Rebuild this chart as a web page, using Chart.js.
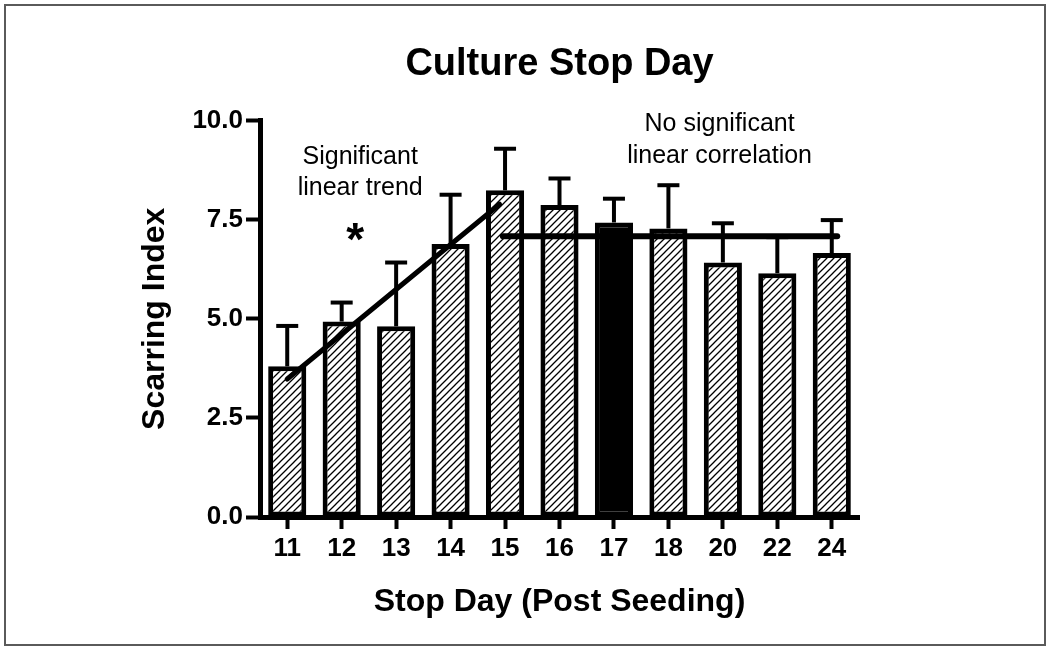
<!DOCTYPE html>
<html><head><meta charset="utf-8">
<script src="https://cdn.jsdelivr.net/npm/chart.js@4.4.0/dist/chart.umd.min.js"></script>
<style>html,body{margin:0;padding:0;background:#fff;overflow:hidden}canvas{display:block}</style>
</head><body>
<canvas id="c" width="1050" height="651"></canvas>
<script>
// ---- data ----
const categories = ['11','12','13','14','15','16','17','18','20','22','24'];
const meanValues = [3.80, 4.93, 4.81, 6.89, 8.24, 7.87, 7.43, 7.28, 6.42, 6.15, 6.66];
const semValues  = [1.02, 0.48, 1.61, 1.24, 1.05, 0.67, 0.60, 1.09, 0.99, 0.91, 0.83];
const yTickValues = [0, 2.5, 5, 7.5, 10];
const yTickLabels = ['0.0', '2.5', '5.0', '7.5', '10.0'];
const trendX = [0, 3.9];
const trendY = [3.48, 7.89];
const plateauX = [3.96, 10.1];
const plateauY = [7.08, 7.08];
const highlightedDay = '17';

Chart.defaults.font.family = "'Liberation Sans', Arial, Helvetica, sans-serif";
Chart.defaults.color = '#000';

// hatch pattern
function makeHatch() {
  const s = 7;
  const pc = document.createElement('canvas');
  pc.width = s; pc.height = s;
  const p = pc.getContext('2d');
  p.fillStyle = '#fff'; p.fillRect(0, 0, s, s);
  p.strokeStyle = '#000'; p.lineWidth = 1.3;
  p.beginPath();
  p.moveTo(-1, s + 1); p.lineTo(s + 1, -1);
  p.moveTo(-1, 1); p.lineTo(1, -1);
  p.moveTo(s - 1, s + 1); p.lineTo(s + 1, s - 1);
  p.stroke();
  return document.getElementById('c').getContext('2d').createPattern(pc, 'repeat');
}
const hatch = makeHatch();
const barFills = categories.map(c => c === highlightedDay ? '#000' : hatch);

const errorBarPlugin = {
  id: 'errorBars',
  afterDatasetDraw(chart, args) {
    if (args.index !== 0) return;
    const ctx = chart.ctx, y = chart.scales.y;
    const meta = chart.getDatasetMeta(0);
    ctx.save();
    ctx.strokeStyle = '#000'; ctx.lineWidth = 4; ctx.lineCap = 'butt';
    meta.data.forEach((bar, i) => {
      const x = bar.x;
      const yTop = y.getPixelForValue(meanValues[i]);
      const yErr = y.getPixelForValue(meanValues[i] + semValues[i]);
      ctx.beginPath(); ctx.moveTo(x, yTop); ctx.lineTo(x, yErr); ctx.stroke();
      ctx.beginPath(); ctx.moveTo(x - 11, yErr); ctx.lineTo(x + 11, yErr); ctx.stroke();
    });
    ctx.restore();
  }
};

const annotations = [
  { lines: ['Significant', 'linear trend'], x: 1.34, y: 8.91, font: '25px "Liberation Sans", Arial, sans-serif', gap: 31 },
  { lines: ['No significant', 'linear correlation'], x: 7.94, y: 9.73, font: '25px "Liberation Sans", Arial, sans-serif', gap: 31.6 },
  { lines: ['*'], x: 1.25, y: 6.6, font: 'bold 46px "Liberation Sans", Arial, sans-serif', gap: 0 }
];

const decorPlugin = {
  id: 'decor',
  afterDraw(chart) {
    const ctx = chart.ctx;
    const xs = chart.scales.xl, ys = chart.scales.y;
    ctx.save();
    ctx.fillStyle = '#000';
    ctx.textAlign = 'center';
    ctx.textBaseline = 'alphabetic';
    annotations.forEach(a => {
      ctx.font = a.font;
      const px = xs.getPixelForValue(a.x);
      const py = ys.getPixelForValue(a.y);
      a.lines.forEach((t, k) => ctx.fillText(t, px, py + k * a.gap));
    });
    ctx.strokeStyle = '#5a5a5a';
    ctx.lineWidth = 2;
    ctx.strokeRect(5, 5, 1040, 640);
    ctx.restore();
  }
};

new Chart(document.getElementById('c'), {
  type: 'bar',
  data: {
    labels: categories,
    datasets: [
      {
        type: 'bar',
        data: meanValues,
        backgroundColor: barFills,
        borderColor: '#000',
        borderWidth: 5,
        borderSkipped: false,
        grouped: false,
        barPercentage: 0.70,
        categoryPercentage: 1.0,
        order: 2,
        xAxisID: 'x'
      },
      {
        type: 'line',
        data: trendX.map((v, i) => ({ x: v, y: trendY[i] })),
        xAxisID: 'xl',
        borderColor: '#000',
        borderWidth: 5,
        borderCapStyle: 'round',
        pointRadius: 0,
        fill: false,
        order: 1
      },
      {
        type: 'line',
        data: plateauX.map((v, i) => ({ x: v, y: plateauY[i] })),
        xAxisID: 'xl',
        borderColor: '#000',
        borderWidth: 6,
        borderCapStyle: 'round',
        pointRadius: 0,
        fill: false,
        order: 1
      }
    ]
  },
  options: {
    responsive: false,
    animation: false,
    devicePixelRatio: 1,
    layout: { padding: { left: 0, right: 191, top: 0, bottom: 0 } },
    plugins: {
      legend: { display: false },
      tooltip: { enabled: false },
      title: {
        display: true,
        text: 'Culture Stop Day',
        fullSize: false,
        color: '#000',
        font: { size: 38, weight: 'bold' },
        padding: { top: 42, bottom: 33 }
      }
    },
    scales: {
      x: {
        type: 'category',
        position: 'bottom',
        offset: true,
        grid: { display: true, drawOnChartArea: false, offset: false, drawTicks: true, tickLength: 12, tickWidth: 4, tickColor: '#000' },
        border: { display: true, color: '#000', width: 5 },
        ticks: { color: '#000', padding: 4, font: { size: 26, weight: 'bold' }, maxRotation: 0, autoSkip: false },
        title: { display: true, text: 'Stop Day (Post Seeding)', color: '#000', font: { size: 32, weight: 'bold' }, padding: { top: 0, bottom: 30 } },
        afterFit(s) { s.height = 134; }
      },
      xl: {
        type: 'linear',
        axis: 'x',
        position: 'bottom',
        display: false,
        offset: false,
        min: -0.5,
        max: 10.5
      },
      y: {
        type: 'linear',
        position: 'left',
        min: 0,
        max: 10,
        afterBuildTicks(s) { s.ticks = yTickValues.map(v => ({ value: v })); },
        grid: { display: true, drawOnChartArea: false, drawTicks: true, tickLength: 14, tickWidth: 4, tickColor: '#000' },
        border: { display: true, color: '#000', width: 5 },
        ticks: {
          color: '#000', padding: 3, font: { size: 26, weight: 'bold' },
          callback(v) { const i = yTickValues.indexOf(v); return i >= 0 ? yTickLabels[i] : ''; }
        },
        title: { display: true, text: 'Scarring Index', color: '#000', font: { size: 32, weight: 'bold' }, padding: { top: 136, bottom: 0 } },
        afterFit(s) { s.width = 260; }
      }
    }
  },
  plugins: [errorBarPlugin, decorPlugin]
});
</script></body></html>
